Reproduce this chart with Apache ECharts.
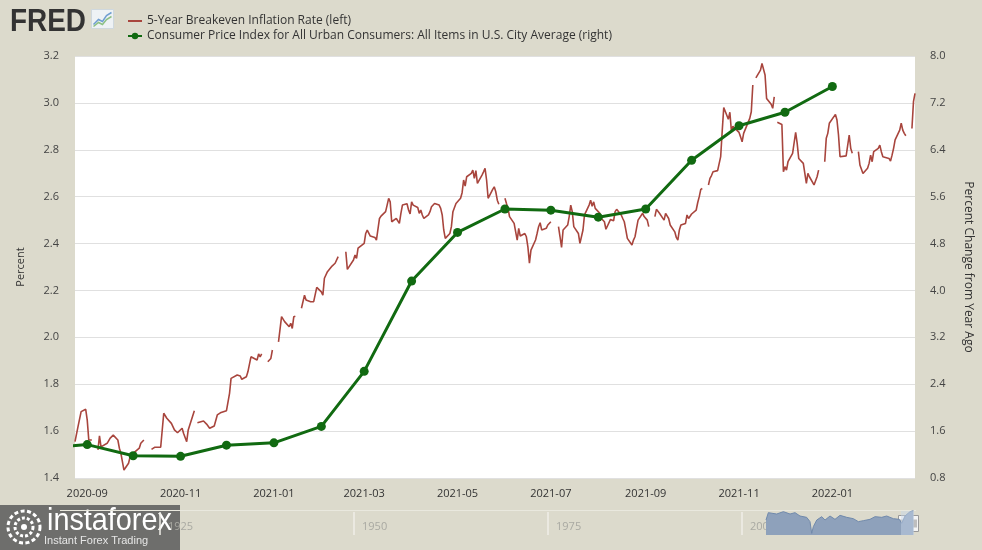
<!DOCTYPE html>
<html><head><meta charset="utf-8">
<script src="https://cdn.jsdelivr.net/npm/echarts@6/dist/echarts.min.js"></script>
<style>html,body{margin:0;padding:0;background:#dcdacc;}#c{width:982px;height:550px;}</style>
</head><body><div id="c"></div>
<script>
// ---- data ----
const breakeven = [
['2020-08-24',1.555],['2020-08-26',1.62],['2020-08-28',1.683],['2020-08-31',1.693],['2020-09-01',1.647],['2020-09-02',1.562],['2020-09-04',1.562],['2020-09-07',null],
['2020-09-08',1.52],['2020-09-09',1.58],['2020-09-10',1.533],['2020-09-14',1.548],['2020-09-15',1.54],['2020-09-16',1.57],['2020-09-18',1.583],['2020-09-21',1.562],
['2020-09-22',1.527],['2020-09-23',1.505],['2020-09-25',1.434],['2020-09-28',1.463],['2020-09-29',1.49],['2020-10-01',1.505],['2020-10-02',1.512],['2020-10-05',1.527],
['2020-10-06',1.548],['2020-10-08',1.562],['2020-10-12',null],['2020-10-13',1.522],['2020-10-15',1.531],['2020-10-19',1.531],['2020-10-21',1.676],['2020-10-23',1.655],
['2020-10-26',1.633],['2020-10-27',1.64],['2020-10-28',1.605],['2020-10-30',1.593],['2020-11-02',1.612],['2020-11-03',1.59],['2020-11-04',1.598],['2020-11-05',1.555],
['2020-11-06',1.605],['2020-11-10',1.687],['2020-11-11',null],['2020-11-12',1.636],['2020-11-16',1.643],['2020-11-18',1.63],['2020-11-20',1.612],['2020-11-23',1.622],
['2020-11-25',1.669],['2020-11-27',1.678],['2020-12-01',1.687],['2020-12-03',1.761],['2020-12-04',1.825],['2020-12-08',1.839],['2020-12-10',1.835],['2020-12-11',1.821],
['2020-12-14',1.832],['2020-12-15',1.853],['2020-12-17',1.917],['2020-12-18',1.925],['2020-12-21',1.903],['2020-12-22',1.929],['2020-12-23',1.917],['2020-12-24',1.929],
['2020-12-25',null],['2020-12-28',1.896],['2020-12-30',1.91],['2020-12-31',1.946],['2021-01-01',null],['2021-01-04',1.981],['2021-01-06',2.088],['2021-01-08',2.067],
['2021-01-11',2.045],['2021-01-12',2.06],['2021-01-13',2.038],['2021-01-14',2.088],['2021-01-15',2.09],['2021-01-18',null],['2021-01-19',2.124],['2021-01-21',2.18],
['2021-01-22',2.159],['2021-01-25',2.152],['2021-01-27',2.152],['2021-01-29',2.213],['2021-02-01',2.194],['2021-02-02',2.18],['2021-02-03',2.252],['2021-02-04',2.258],
['2021-02-05',2.28],['2021-02-08',2.304],['2021-02-09',2.308],['2021-02-10',2.316],['2021-02-12',2.344],['2021-02-15',null],['2021-02-17',2.365],['2021-02-18',2.29],
['2021-02-19',2.294],['2021-02-22',2.33],['2021-02-23',2.351],['2021-02-24',2.337],['2021-02-25',2.38],['2021-02-26',2.386],['2021-03-01',2.401],['2021-03-02',2.443],
['2021-03-03',2.457],['2021-03-05',2.432],['2021-03-08',2.426],['2021-03-09',2.415],['2021-03-10',2.408],['2021-03-11',2.507],['2021-03-12',2.517],['2021-03-15',2.536],
['2021-03-16',2.564],['2021-03-17',2.593],['2021-03-18',2.578],['2021-03-19',2.493],['2021-03-22',2.507],['2021-03-23',2.503],['2021-03-24',2.486],['2021-03-25',2.529],
['2021-03-26',2.564],['2021-03-29',2.57],['2021-03-30',2.543],['2021-03-31',2.526],['2021-04-01',2.578],['2021-04-02',2.564],['2021-04-05',2.554],['2021-04-06',2.529],
['2021-04-07',2.543],['2021-04-08',2.522],['2021-04-09',2.507],['2021-04-12',2.522],['2021-04-13',2.536],['2021-04-14',2.557],['2021-04-16',2.571],['2021-04-19',2.564],
['2021-04-20',2.55],['2021-04-21',2.522],['2021-04-22',2.458],['2021-04-23',2.422],['2021-04-26',2.443],['2021-04-27',2.472],['2021-04-28',2.536],['2021-04-30',2.571],
['2021-05-03',2.593],['2021-05-04',2.617],['2021-05-05',2.671],['2021-05-06',2.645],['2021-05-07',2.685],['2021-05-10',2.699],['2021-05-11',2.713],['2021-05-12',2.678],
['2021-05-13',2.711],['2021-05-14',2.657],['2021-05-17',2.692],['2021-05-18',2.706],['2021-05-19',2.721],['2021-05-20',2.671],['2021-05-21',2.593],['2021-05-24',2.631],
['2021-05-25',2.642],['2021-05-26',2.621],['2021-05-27',2.585],['2021-05-28',2.568],['2021-05-31',null],['2021-06-01',2.593],['2021-06-02',2.571],['2021-06-03',2.55],
['2021-06-04',2.515],['2021-06-07',2.486],['2021-06-09',2.415],['2021-06-10',2.465],['2021-06-11',2.432],['2021-06-14',2.443],['2021-06-15',2.429],['2021-06-16',2.386],
['2021-06-17',2.316],['2021-06-18',2.372],['2021-06-21',2.415],['2021-06-22',2.443],['2021-06-23',2.472],['2021-06-24',2.489],['2021-06-25',2.458],['2021-06-28',2.465],
['2021-06-29',2.479],['2021-07-01',2.493],['2021-07-05',null],['2021-07-06',2.472],['2021-07-07',2.429],['2021-07-08',2.384],['2021-07-09',2.458],['2021-07-12',2.479],
['2021-07-13',2.515],['2021-07-14',2.564],['2021-07-15',2.536],['2021-07-16',2.472],['2021-07-19',2.443],['2021-07-20',2.401],['2021-07-21',2.394],['2021-07-22',2.458],
['2021-07-23',2.522],['2021-07-26',2.564],['2021-07-27',2.585],['2021-07-28',2.559],['2021-07-29',2.578],['2021-07-30',2.55],['2021-08-02',2.529],['2021-08-03',2.507],
['2021-08-04',2.5],['2021-08-05',2.493],['2021-08-06',2.461],['2021-08-09',2.503],['2021-08-10',2.497],['2021-08-11',2.497],['2021-08-12',2.536],['2021-08-13',2.546],
['2021-08-16',2.522],['2021-08-17',2.507],['2021-08-18',2.493],['2021-08-19',2.458],['2021-08-20',2.422],['2021-08-23',2.394],['2021-08-24',2.415],['2021-08-25',2.429],
['2021-08-26',2.465],['2021-08-27',2.5],['2021-08-30',2.529],['2021-08-31',2.515],['2021-09-01',2.522],['2021-09-02',2.5],['2021-09-03',2.472],['2021-09-06',null],
['2021-09-07',2.515],['2021-09-08',2.546],['2021-09-09',2.55],['2021-09-10',2.529],['2021-09-13',2.5],['2021-09-14',2.529],['2021-09-15',2.536],['2021-09-16',2.507],
['2021-09-17',2.479],['2021-09-20',2.45],['2021-09-21',2.426],['2021-09-22',2.415],['2021-09-23',2.458],['2021-09-24',2.479],['2021-09-27',2.486],['2021-09-28',2.522],
['2021-09-29',2.507],['2021-09-30',2.515],['2021-10-01',2.526],['2021-10-04',2.543],['2021-10-05',2.575],['2021-10-06',2.6],['2021-10-07',2.631],['2021-10-08',2.635],
['2021-10-11',null],['2021-10-12',2.65],['2021-10-13',2.678],['2021-10-14',2.69],['2021-10-15',2.706],['2021-10-18',2.711],['2021-10-19',2.711],['2021-10-20',2.771],
['2021-10-21',2.88],['2021-10-22',2.98],['2021-10-25',2.93],['2021-10-26',2.96],['2021-10-27',2.88],['2021-10-28',2.9],['2021-10-29',2.898],['2021-11-01',2.874],
['2021-11-02',2.855],['2021-11-03',2.834],['2021-11-04',2.87],['2021-11-05',2.866],['2021-11-08',2.934],['2021-11-09',2.962],['2021-11-10',3.076],['2021-11-11',null],
['2021-11-12',3.107],['2021-11-15',3.14],['2021-11-16',3.168],['2021-11-17',3.168],['2021-11-18',3.119],['2021-11-19',3.019],['2021-11-22',2.994],['2021-11-23',2.977],
['2021-11-24',3.026],['2021-11-25',null],['2021-11-26',2.917],['2021-11-29',2.908],['2021-11-30',2.706],['2021-12-01',2.728],['2021-12-02',2.713],['2021-12-03',2.749],
['2021-12-06',2.785],['2021-12-07',2.83],['2021-12-08',2.874],['2021-12-09',2.827],['2021-12-10',2.763],['2021-12-13',2.742],['2021-12-14',2.735],['2021-12-15',2.657],
['2021-12-16',2.699],['2021-12-17',2.685],['2021-12-20',2.65],['2021-12-21',2.647],['2021-12-22',2.685],['2021-12-23',2.713],['2021-12-24',null],['2021-12-27',2.749],
['2021-12-28',2.849],['2021-12-29',2.87],['2021-12-30',2.913],['2022-01-03',2.951],['2022-01-04',2.927],['2022-01-05',2.863],['2022-01-06',2.77],['2022-01-07',2.777],
['2022-01-10',2.774],['2022-01-11',2.77],['2022-01-12',2.863],['2022-01-13',2.806],['2022-01-14',2.785],['2022-01-17',null],['2022-01-18',2.792],['2022-01-19',2.735],
['2022-01-20',2.728],['2022-01-21',2.699],['2022-01-24',2.721],['2022-01-25',2.742],['2022-01-26',2.777],['2022-01-27',2.749],['2022-01-28',2.792],['2022-01-31',2.806],
['2022-02-01',2.82],['2022-02-02',2.792],['2022-02-03',2.77],['2022-02-04',2.777],['2022-02-07',2.763],['2022-02-08',2.752],['2022-02-09',2.777],['2022-02-10',2.806],
['2022-02-11',2.842],['2022-02-14',2.884],['2022-02-15',2.913],['2022-02-16',2.884],['2022-02-17',2.87],['2022-02-18',2.86],['2022-02-21',null],['2022-02-22',2.891],
['2022-02-23',3.005],['2022-02-24',3.041]
];
const cpiDates = ['2020-08-01','2020-09-01','2020-10-01','2020-11-01','2020-12-01','2021-01-01','2021-02-01','2021-03-01','2021-04-01','2021-05-01','2021-06-01','2021-07-01','2021-08-01','2021-09-01','2021-10-01','2021-11-01','2021-12-01','2022-01-01'];
const cpiValues = [1.31,1.37,1.18,1.17,1.36,1.40,1.68,2.62,4.16,4.99,5.39,5.37,5.25,5.39,6.22,6.81,7.04,7.48];
const xTickDates = ['2020-09-01','2020-11-01','2021-01-01','2021-03-01','2021-05-01','2021-07-01','2021-09-01','2021-11-01','2022-01-01'];
const xRange = ['2020-08-24','2022-02-24'];
const seriesNames = ['5-Year Breakeven Inflation Rate (left)','Consumer Price Index for All Urban Consumers: All Items in U.S. City Average (right)'];
// navigator (long history overview)
const navYears  = [2003.09,2003.39,2004.47,2005.33,2006.19,2006.83,2007.47,2008.33,2008.76,2008.98,2009.19,2009.63,2010.27,2010.7,2011.34,2011.98,2012.63,2013.49,2014.34,2014.99,2015.63,2016.49,2017.14,2018.0,2018.64,2019.5,2020.27,2020.58,2021.0,2021.65,2022.08];
const navValues = [1.8,2.68,2.52,2.8,2.52,2.68,2.28,2.12,1.6,0.2,1.0,1.8,2.2,1.8,2.28,1.88,2.36,2.12,1.96,1.6,1.72,1.88,2.2,2.12,2.28,1.96,1.88,1.4,2.28,2.8,2.92];
const navTickYears = [1925,1950,1975,2000];

// ---- helpers ----
function ts(s){const p=s.split('-').map(Number);return new Date(p[0],p[1]-1,p[2]).getTime();}
function fmtYM(v){const d=new Date(v);return d.getFullYear()+'-'+String(d.getMonth()+1).padStart(2,'0');}
const beData = breakeven.map(d=>[ts(d[0]), d[1]]);
const cpiData = cpiDates.map((d,i)=>[ts(d), cpiValues[i]]);
const navData = navYears.map((y,i)=>[y, navValues[i]]);

const FONT = "'Open Sans', 'DejaVu Sans', sans-serif";
const chart = echarts.init(document.getElementById('c'), null, {renderer:'canvas'});
chart.setOption({
  animation:false,
  backgroundColor:'#dcdacc',
  textStyle:{fontFamily:FONT},
  legend:{
    orient:'vertical', left:122, top:10, itemWidth:14, itemHeight:8, itemGap:3,
    data:[{name:seriesNames[0], icon:'path://M0,0L14,0L14,2L0,2Z'}, {name:seriesNames[1]}],
    textStyle:{fontSize:12, color:'#333', fontFamily:FONT}
  },
  grid:[
    {left:75, right:67, top:56, bottom:72, show:true, backgroundColor:'#ffffff', borderWidth:0},
    {left:160, right:67, top:510, height:25, show:false}
  ],
  xAxis:[
    {type:'value', gridIndex:0, min:ts(xRange[0]), max:ts(xRange[1]), scale:true,
     axisLine:{show:false}, axisTick:{show:false}, splitLine:{show:false},
     axisLabel:{customValues:xTickDates.map(ts), margin:10, fontSize:11, color:'#333', fontFamily:FONT,
       formatter:v=>fmtYM(v)}},
    {type:'value', gridIndex:1, min:1925, max:2022.29,
     axisLine:{show:false}, splitLine:{show:false},
     axisTick:{show:true, inside:true, length:23, customValues:navTickYears, lineStyle:{color:'#efeee7', width:1.5}},
     axisLabel:{show:true, inside:true, customValues:navTickYears, margin:8, align:'left', verticalAlign:'middle',
       padding:[0,0,0,8], fontSize:11, color:'#a9a9a2', fontFamily:FONT, formatter:v=>String(v)}}
  ],
  yAxis:[
    {type:'value', gridIndex:0, min:1.4, max:3.2, interval:0.2, position:'left',
     name:'Percent', nameLocation:'middle', nameGap:49, nameRotate:90,
     nameTextStyle:{fontSize:11, color:'#333', fontFamily:FONT},
     axisLine:{show:false}, axisTick:{show:false},
     axisLabel:{margin:16, fontSize:11, color:'#444', fontFamily:FONT, formatter:v=>v.toFixed(1)},
     splitLine:{show:true, lineStyle:{color:'#e0e0e0', width:1}}},
    {type:'value', gridIndex:0, min:0.8, max:8.0, interval:0.8, position:'right',
     name:'Percent Change from Year Ago', nameLocation:'middle', nameGap:47, nameRotate:-90,
     nameTextStyle:{fontSize:12, color:'#333', fontFamily:FONT},
     axisLine:{show:false}, axisTick:{show:false},
     axisLabel:{margin:15, fontSize:11, color:'#444', fontFamily:FONT, formatter:v=>v.toFixed(1)},
     splitLine:{show:false}},
    {type:'value', gridIndex:1, min:0, max:3, show:false}
  ],
  series:[
    {name:seriesNames[0], type:'line', xAxisIndex:0, yAxisIndex:0, data:beData,
     symbol:'none', connectNulls:false, color:'#a8453d',
     lineStyle:{color:'#a8453d', width:1.6}},
    {name:seriesNames[1], type:'line', xAxisIndex:0, yAxisIndex:1, data:cpiData,
     symbol:'circle', symbolSize:9, color:'#116a11',
     itemStyle:{color:'#116a11'}, lineStyle:{color:'#116a11', width:3}},
    {name:'nav', type:'line', xAxisIndex:1, yAxisIndex:2, data:navData, symbol:'none',
     lineStyle:{color:'#7089ab', width:1}, areaStyle:{color:'#8ea1bb', opacity:1}, silent:true}
  ],
  graphic:[
    {type:'text', left:10, top:7, style:{text:'FRED', font:"bold 31px 'Liberation Sans', Arial, sans-serif", fill:'#333333'}, scaleX:0.9, z:10},
    {type:'group', left:91, top:9, z:10, children:[
      {type:'rect', shape:{x:0,y:0,width:22,height:19}, style:{fill:'#eef2f5', stroke:'#cfd8de', lineWidth:1}},
      {type:'polyline', shape:{points:[[2,15],[7,10],[11,12],[15,6],[20,3]]}, style:{stroke:'#6f9ed1', lineWidth:1.5, fill:null}},
      {type:'polyline', shape:{points:[[2,17],[7,13],[11,15],[15,10],[20,7]]}, style:{stroke:'#8cc084', lineWidth:1.5, fill:null}}
    ]},
    {type:'line', shape:{x1:60,y1:510.5,x2:916,y2:510.5}, style:{stroke:'#e9e8de', lineWidth:1}, z:1},
    {type:'rect', shape:{x:901,y:511,width:13,height:24}, style:{fill:'rgba(200,214,234,0.45)'}, z:20},
    {type:'group', left:898, top:515, z:21, children:[
      {type:'rect', shape:{x:0,y:0,width:7,height:16}, style:{fill:'#f4f4f4', stroke:'#999', lineWidth:1}},
      {type:'line', shape:{x1:2.5,y1:4,x2:2.5,y2:12}, style:{stroke:'#888', lineWidth:1}},
      {type:'line', shape:{x1:4.5,y1:4,x2:4.5,y2:12}, style:{stroke:'#888', lineWidth:1}}
    ]},
    {type:'group', left:911, top:515, z:21, children:[
      {type:'rect', shape:{x:0,y:0,width:7,height:16}, style:{fill:'#f4f4f4', stroke:'#999', lineWidth:1}},
      {type:'line', shape:{x1:2.5,y1:4,x2:2.5,y2:12}, style:{stroke:'#888', lineWidth:1}},
      {type:'line', shape:{x1:4.5,y1:4,x2:4.5,y2:12}, style:{stroke:'#888', lineWidth:1}}
    ]},
    {type:'group', left:0, top:505, z:50, children:[
      {type:'rect', shape:{x:0,y:0,width:180,height:45}, style:{fill:'rgba(98,98,98,0.9)'}},
      {type:'circle', shape:{cx:24,cy:22,r:16}, style:{fill:null, stroke:'#ffffff', lineWidth:3, lineDash:[4,2.5]}},
      {type:'circle', shape:{cx:24,cy:22,r:9}, style:{fill:null, stroke:'#ffffff', lineWidth:3, lineDash:[3,2]}},
      {type:'circle', shape:{cx:24,cy:22,r:3}, style:{fill:'#ffffff'}},
      {type:'text', x:47, y:16, scaleX:0.9, style:{text:'instaforex', font:"32px 'Liberation Sans', Arial, sans-serif", fill:'#ffffff', verticalAlign:'middle'}},
      {type:'text', x:44, y:36, style:{text:'Instant Forex Trading', font:"11px 'Liberation Sans', Arial, sans-serif", fill:'#e6e6e6', verticalAlign:'middle'}}
    ]}
  ]
});
</script></body></html>
